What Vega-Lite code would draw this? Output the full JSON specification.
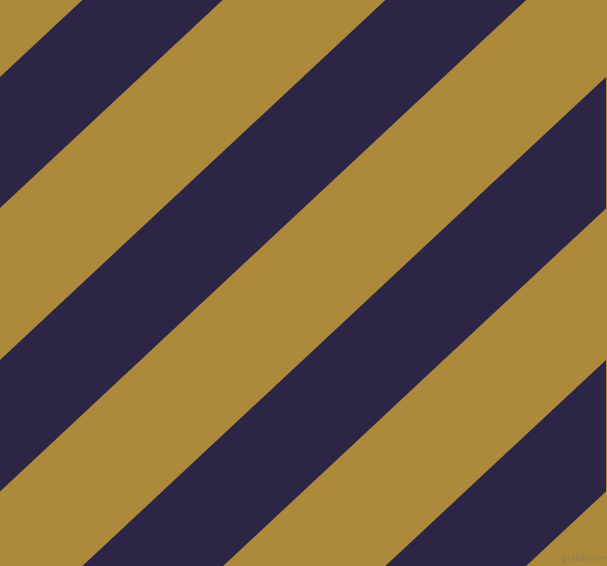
{
  "$schema": "https://vega.github.io/schema/vega-lite/v6.json",
  "width": 607,
  "height": 566,
  "autosize": {"type": "fit", "contains": "padding"},
  "padding": 0,
  "background": "#ad8a3b",
  "datasets": {
    "stripes": [
      {"stripe": "A", "x": 0, "top": 76.9, "bottom": 207.9},
      {"stripe": "A", "x": 607, "top": -489.1, "bottom": -358.1},
      {"stripe": "B", "x": 0, "top": 359.9, "bottom": 491.4},
      {"stripe": "B", "x": 607, "top": -206.1, "bottom": -74.6},
      {"stripe": "C", "x": 0, "top": 643.0, "bottom": 774.4},
      {"stripe": "C", "x": 607, "top": 76.9, "bottom": 208.4},
      {"stripe": "D", "x": 0, "top": 926.0, "bottom": 1057.5},
      {"stripe": "D", "x": 607, "top": 359.9, "bottom": 491.4}
    ],
    "mark": [
      {"label": "pixlis.com", "x": 585, "y": 558}
    ]
  },
  "layer": [
    {
      "data": {"name": "stripes"},
      "mark": {"type": "area", "color": "#2d2545", "clip": true, "orient": "vertical"},
      "encoding": {
        "x": {"field": "x", "type": "quantitative", "scale": {"domain": [0, 607], "nice": false, "zero": false}, "axis": null},
        "y": {"field": "top", "type": "quantitative", "scale": {"domain": [0, 566], "nice": false, "zero": false, "reverse": true}, "axis": null},
        "y2": {"field": "bottom"},
        "detail": {"field": "stripe", "type": "nominal"}
      }
    },
    {
      "data": {"name": "mark"},
      "mark": {"type": "text", "font": "DejaVu Sans", "fontSize": 9, "fill": "#8a7a5a", "opacity": 0.8},
      "encoding": {
        "x": {"field": "x", "type": "quantitative"},
        "y": {"field": "y", "type": "quantitative"},
        "text": {"field": "label"}
      }
    }
  ],
  "config": {"view": {"stroke": null}}
}
